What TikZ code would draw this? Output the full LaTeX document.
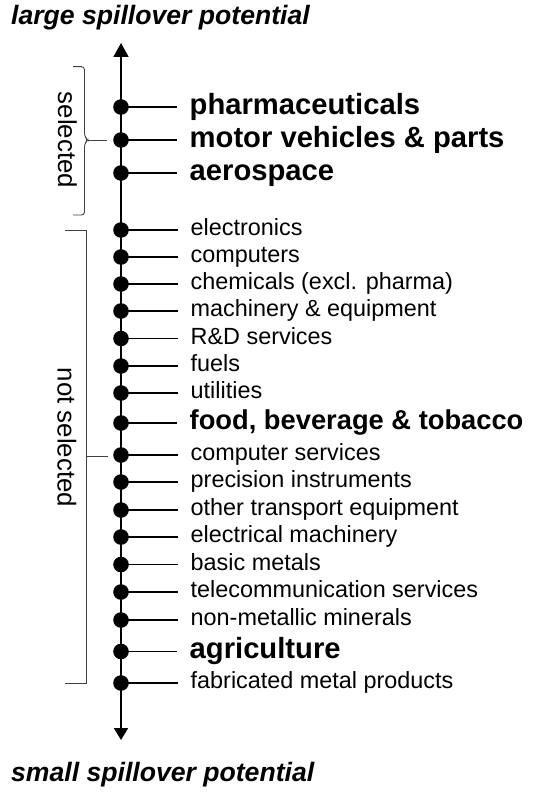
\documentclass[tikz,border=0pt]{standalone}
\usepackage{fontspec}
\setmainfont{Liberation Sans}
\usetikzlibrary{arrows.meta}
\begin{document}
\begin{tikzpicture}[x=1pt,y=-1pt,
  dot/.style={circle,fill=black,inner sep=0pt,minimum size=15.6pt},
  reg/.style={anchor=west,inner sep=0pt,text height=16.85pt,text depth=4.91pt,font=\fontsize{23.4}{28}\selectfont},
  big/.style={anchor=west,inner sep=0pt,text height=21pt,text depth=6.13pt,font=\fontsize{29.2}{34}\selectfont\bfseries},
  bigfood/.style={anchor=west,inner sep=0pt,text height=19.66pt,text depth=5.73pt,font=\fontsize{27.3}{32}\selectfont\bfseries},
  tick/.style={line width=1.5pt,shorten >=12.5pt},
  brace/.style={line width=0.9pt,draw=black!75},
  side/.style={rotate=-90,anchor=center,inner sep=0pt,font=\fontsize{25.9}{30}\selectfont},
  title/.style={anchor=base west,inner sep=0pt,font=\fontsize{26.6}{30}\selectfont\bfseries\itshape}]
\useasboundingbox (0,0) rectangle (555,792);
% titles
\node[title] (tl) at (11,25) {large spillover potential};
\node[title] (ts) at (11,781) {small spillover potential};
% axis
\coordinate (atop) at (121,43);
\coordinate (abot) at (121,740);
\draw[line width=1.8pt,{Triangle[length=14pt,width=15pt]}-{Triangle[length=12pt,width=14pt]}] (atop) -- (abot);
% items
\node[dot] (d1) at (121,107) {};   \node[big] (t1) at (189.5,107) {pharmaceuticals};
\node[dot] (d2) at (121,140) {};   \node[big] (t2) at (189.5,140) {motor vehicles \& parts};
\node[dot] (d3) at (121,173) {};   \node[big] (t3) at (189.5,173) {aerospace};
\node[dot] (d4) at (121,230) {};   \node[reg] (t4) at (190.5,230) {electronics};
\node[dot] (d5) at (121,257) {};   \node[reg] (t5) at (190.5,257) {computers};
\node[dot] (d6) at (121,284) {};   \node[reg] (t6) at (190.5,284) {chemicals (excl. pharma)};
\node[dot] (d7) at (121,311) {};   \node[reg] (t7) at (190.5,311) {machinery \& equipment};
\node[dot] (d8) at (121,338.5) {}; \node[reg] (t8) at (190.5,338.5) {R\&D services};
\node[dot] (d9) at (121,366) {};   \node[reg] (t9) at (190.5,366) {fuels};
\node[dot] (d10) at (121,393) {};  \node[reg] (t10) at (190.5,393) {utilities};
\node[dot] (d11) at (121,423) {};  \node[bigfood] (t11) at (189.5,423) {food, beverage \& tobacco};
\node[dot] (d12) at (121,455) {};  \node[reg] (t12) at (190.5,455) {computer services};
\node[dot] (d13) at (121,482) {};  \node[reg] (t13) at (190.5,482) {precision instruments};
\node[dot] (d14) at (121,510) {};  \node[reg] (t14) at (190.5,510) {other transport equipment};
\node[dot] (d15) at (121,537) {};  \node[reg] (t15) at (190.5,537) {electrical machinery};
\node[dot] (d16) at (121,564.5) {};\node[reg] (t16) at (190.5,564.5) {basic metals};
\node[dot] (d17) at (121,592) {};  \node[reg] (t17) at (190.5,592) {telecommunication services};
\node[dot] (d18) at (121,620) {};  \node[reg] (t18) at (190.5,620) {non-metallic minerals};
\node[dot] (d19) at (121,651.5) {};\node[big] (t19) at (189.5,651.5) {agriculture};
\node[dot] (d20) at (121,683) {};  \node[reg] (t20) at (190.5,683) {fabricated metal products};
\foreach \i in {1,...,20} {\draw[tick] (d\i.center) -- (t\i.west);}
% selected brace
\coordinate (s1) at (73,66.7);
\coordinate (s2) at (73,215);
\coordinate (sm) at (88,140);
\coordinate (stip) at (107,140);
\draw[brace,rounded corners=3pt] (s1) -| (84.5,136.5) -- (sm) -- (84.5,143.5) |- (s2);
\draw[brace] (sm) -- (stip);
\node[side] (sel) at (67.5,140) {selected};
% not selected bracket
\coordinate (n1) at (65,230);
\coordinate (n2) at (65,683);
\coordinate (nm) at (86,456.5);
\coordinate (ntip) at (108,456.5);
\draw[brace] (n1) -| (86,683) -- (n2);
\draw[brace] (nm) -- (ntip);
\node[side] (nsel) at (67,437.5) {not selected};
\end{tikzpicture}
\end{document}
